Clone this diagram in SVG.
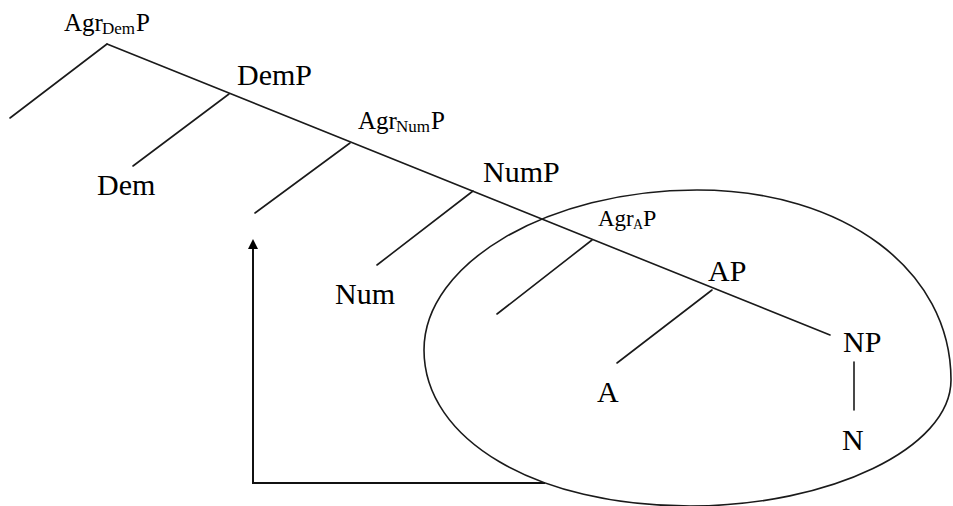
<svg xmlns="http://www.w3.org/2000/svg" width="953" height="506" viewBox="0 0 953 506">
<style>
.lbl{font-family:"Liberation Serif","Times New Roman",serif;font-size:30px;fill:#000}
.agr{font-family:"Liberation Serif","Times New Roman",serif;font-size:25px;fill:#000}
.sub{font-family:"Liberation Serif","Times New Roman",serif;font-size:17px;fill:#000}
.edge{stroke:#1a1a1a;stroke-width:1.6;fill:none;stroke-linecap:round}
.move{stroke:#111;stroke-width:2;fill:none}
</style>
<rect width="953" height="506" fill="#fff"/>
<g id="connectors">
<path class="edge" d="M107,44 L830,335"/>
<path class="edge" d="M107,44 L10,118"/>
<path class="edge" d="M229,94 L133,166"/>
<path class="edge" d="M350,143 L255,213"/>
<path class="edge" d="M473,191 L377,265"/>
<path class="edge" d="M592,240 L497,314"/>
<path class="edge" d="M712,290 L617,363"/>
<path class="edge" d="M854,362 L854,410"/>
<path class="move" d="M545,483 L253,483 L253,248"/>
<path d="M253,239 L248,249 L258,249 Z" fill="#000"/>
</g>
<g id="domain">
<path class="edge" d="M424,350 C424,263 548.5,190 697,190 C844,190 951,270 951,380 C951,448 830,506 690,506 C536.5,506 424,440 424,350 Z"/>
</g>
<g id="AgrDemP"><text class="agr" x="64" y="31">Agr</text><text class="sub" x="102" y="34">Dem</text><text class="agr" x="136" y="31">P</text></g>
<g id="DemP"><text class="lbl" x="237" y="85">DemP</text></g>
<g id="Dem"><text class="lbl" x="97" y="195">Dem</text></g>
<g id="AgrNumP"><text class="agr" x="358" y="129">Agr</text><text class="sub" x="396" y="132">Num</text><text class="agr" x="431" y="129">P</text></g>
<g id="NumP"><text class="lbl" x="483" y="182">NumP</text></g>
<g id="Num"><text class="lbl" x="335" y="304">Num</text></g>
<g id="AgrAP"><text class="agr" x="598" y="226" style="font-size:23px">Agr</text><text class="sub" x="633" y="229" style="font-size:14px">A</text><text class="agr" x="643" y="226" style="font-size:24px">P</text></g>
<g id="AP"><text class="lbl" x="708" y="281">AP</text></g>
<g id="NP"><text class="lbl" x="843" y="352">NP</text></g>
<g id="A"><text class="lbl" x="597" y="402">A</text></g>
<g id="N"><text class="lbl" x="842" y="450">N</text></g>
</svg>
